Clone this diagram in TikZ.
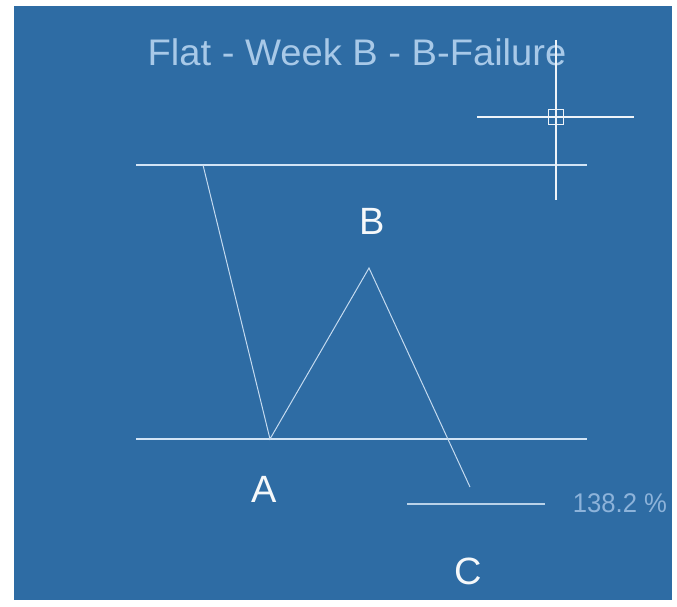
\documentclass[tikz,border=0pt]{standalone}
\usepackage{fontspec}
\setmainfont{Liberation Sans}
\definecolor{bg}{HTML}{2E6CA4}
\definecolor{ln}{HTML}{D2E4F5}
\definecolor{thin}{HTML}{C4DAEF}
\definecolor{ttl}{HTML}{A8C9E8}
\definecolor{pct}{HTML}{8DB3DA}
\tikzset{
  level/.style={draw=ln, line width=1.5pt},
  wave/.style={draw=thin, line width=1pt},
  cross/.style={draw=white!92!bg, line width=1.8pt},
  lbl/.style={text=white!95!bg, font=\fontsize{38}{40}\selectfont, inner sep=0pt},
}
\begin{document}
\begin{tikzpicture}[x=1pt,y=-1pt]
\useasboundingbox (0,0) rectangle (677,607);
\fill[white] (0,0) rectangle (677,607);
\fill[bg] (14,6) rectangle (672,600);
% title
\node[text=ttl, font=\fontsize{37}{40}\selectfont, inner sep=0pt, xscale=1.03] (title) at (357,52) {Flat - Week B - B-Failure};
% levels
\coordinate (t1) at (136,165); \coordinate (t2) at (587,165);
\coordinate (b1) at (136,439); \coordinate (b2) at (587,439);
\draw[level] (t1) -- (t2);
\draw[level] (b1) -- (b2);
% wave
\coordinate (s) at (203,165);
\coordinate (a) at (270,439);
\coordinate (b) at (369,268);
\coordinate (c) at (470,487);
\draw[wave] (s) -- (a) -- (b) -- (c);
% 138.2 line
\coordinate (p1) at (407,504); \coordinate (p2) at (545,504);
\draw[level, draw=ln!85!bg] (p1) -- (p2);
\node[text=pct, font=\fontsize{27}{30}\selectfont, inner sep=0pt, xscale=0.95] (pcttext) at (620,503) {138.2 \%};
% labels
\node[lbl] (B) at (372,221) {B};
\node[lbl] (A) at (264,489) {A};
\node[lbl] (C) at (468,571) {C};
% crosshair
\coordinate (h1) at (477,117); \coordinate (h2) at (634,117);
\coordinate (v1) at (556,40); \coordinate (v2) at (556,200);
\draw[cross] (h1) -- (h2);
\draw[cross] (v1) -- (v2);
\draw[cross, line width=1.5pt] (548.5,109.5) rectangle (563.5,124.5);
\end{tikzpicture}
\end{document}
